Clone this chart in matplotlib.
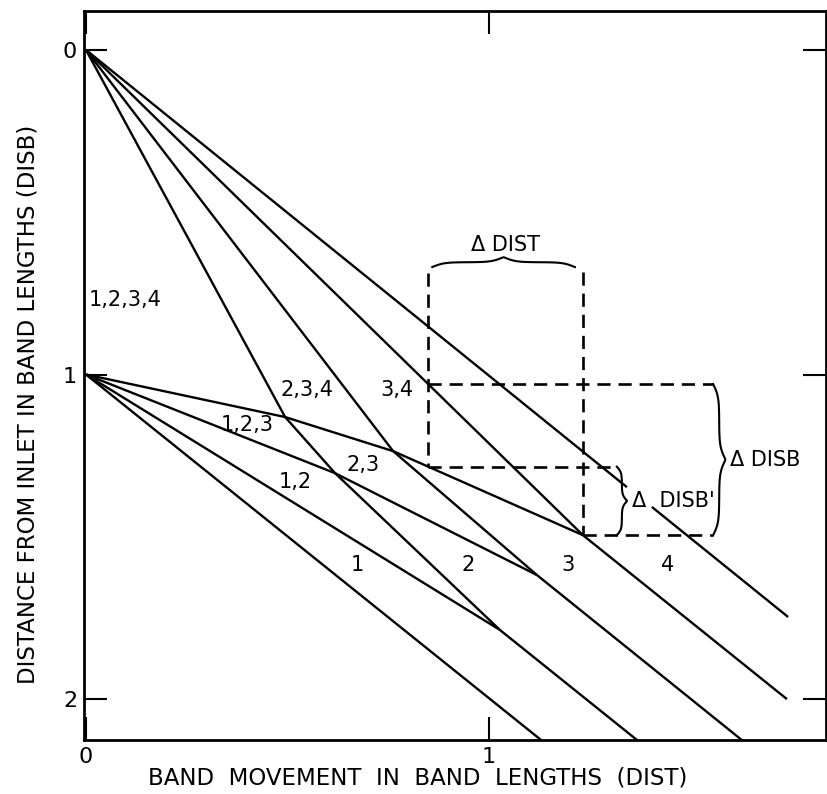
import numpy as np
import matplotlib.pyplot as plt

plt.rcParams['font.family'] = ['DejaVu Sans']

# band boundaries as (DIST, DISB) vertices
# rear boundaries leave the inlet (DISB 0), fronts leave DISB 1
rear_1 = [(0.0, 0.0), (0.494, 1.131), (0.618, 1.304), (1.027, 1.787), (1.367, 2.126)]
rear_2 = [(0.0, 0.0), (0.762, 1.236), (1.119, 1.618), (1.627, 2.126)]
rear_3 = [(0.0, 0.0), (1.233, 1.495), (1.739, 2.0)]
rear_4a = [(0.0, 0.0), (1.342, 1.347)]
rear_4b = [(1.404, 1.408), (1.742, 1.747)]
front_1 = [(0.0, 1.0), (1.129, 2.126)]
front_2 = [(0.0, 1.0), (1.027, 1.787)]
front_3 = [(0.0, 1.0), (0.618, 1.304), (1.119, 1.618)]
front_4 = [(0.0, 1.0), (0.494, 1.131), (0.762, 1.236), (1.233, 1.495)]

# zone labels and where they sit
zone_names = ["1,2,3,4", "2,3,4", "3,4", "1,2,3", "2,3", "1,2", "1", "2", "3", "4"]
zone_x = [0.098, 0.548, 0.772, 0.400, 0.687, 0.519, 0.672, 0.948, 1.196, 1.444]
zone_y = [0.770, 1.048, 1.048, 1.156, 1.279, 1.331, 1.587, 1.587, 1.587, 1.587]

# start of the DIST interval used for the deltas
dist_start = 0.849

x_ticks = [0, 1]
y_ticks = [0, 1, 2]


def draw(ax, pts):
    pts = np.array(pts)
    ax.plot(pts[:, 0], pts[:, 1], color='black', lw=1.7, solid_capstyle='butt')


def brace_shape(n=60, b=12.0):
    s = np.linspace(0, 1, n)
    half = 1 / (1 + np.exp(-b * s)) + 1 / (1 + np.exp(-b * (s - 1)))
    off = np.concatenate([half, half[::-1]]) - 0.5
    return np.linspace(0, 1, off.size), off


def brace_v(ax, x, y0, y1, w):
    t, off = brace_shape()
    ax.plot(x + w * off, y0 + t * (y1 - y0), color='black', lw=1.5)


def brace_h(ax, x0, x1, y, w):
    t, off = brace_shape()
    ax.plot(x0 + t * (x1 - x0), y - w * off, color='black', lw=1.5)


fig = plt.figure(figsize=(8.28, 7.94), dpi=100)
ax = fig.add_axes([84 / 828, 54 / 794, 742 / 828, 729 / 794])

for line in [rear_1, rear_2, rear_3, rear_4a, rear_4b, front_1, front_2, front_3, front_4]:
    draw(ax, line)

for name, x, y in zip(zone_names, zone_x, zone_y):
    ax.text(x, y, name, fontsize=15, ha='center', va='center')

# dashed construction for the deltas
r3 = np.array(rear_3)
f4 = np.array(front_4)
y_top = np.interp(dist_start, r3[:, 0], r3[:, 1])
y_mid = np.interp(dist_start, f4[:, 0], f4[:, 1])
x_meet, y_bot = rear_3[1]
dash = dict(color='black', lw=1.9, ls=(0, (5, 3)))
ax.plot([dist_start, dist_start], [0.687, y_mid], **dash)
ax.plot([x_meet, x_meet], [0.684, y_bot], **dash)
ax.plot([dist_start, 1.556], [y_top, y_top], **dash)
ax.plot([dist_start, 1.317], [y_mid, y_mid], **dash)
ax.plot([x_meet, 1.556], [y_bot, y_bot], **dash)

brace_h(ax, dist_start + 0.01, x_meet - 0.02, 0.669, 0.03)
brace_v(ax, 1.556, y_top, y_bot, 0.03)
brace_v(ax, 1.317, y_mid, y_bot, 0.025)

ax.text((dist_start + x_meet) / 2, 0.601, '\u0394 DIST', fontsize=15, ha='center', va='center')
ax.text(1.598, (y_top + y_bot) / 2, '\u0394 DISB', fontsize=15, ha='left', va='center')
ax.text(1.355, (y_mid + y_bot) / 2, '\u0394  DISB\'', fontsize=15, ha='left', va='center')

ax.set_xlim(-0.005, 1.836)
ax.set_ylim(2.126, -0.120)
ax.set_xticks(x_ticks)
ax.set_yticks(y_ticks)
ax.tick_params(direction='in', length=16.5, width=1.5, top=True, right=True,
               labelsize=16, pad=5)
for sp in ax.spines.values():
    sp.set_linewidth(2)

ax.set_xlabel('BAND  MOVEMENT  IN  BAND  LENGTHS  (DIST)', fontsize=16.5, va='center')
ax.xaxis.set_label_coords(0.45, -0.052)
ax.set_ylabel('DISTANCE FROM INLET IN BAND LENGTHS (DISB)', fontsize=16.5, va='center')
ax.yaxis.set_label_coords(-0.0755, 0.46)

fig.savefig('out.png', dpi=100)
